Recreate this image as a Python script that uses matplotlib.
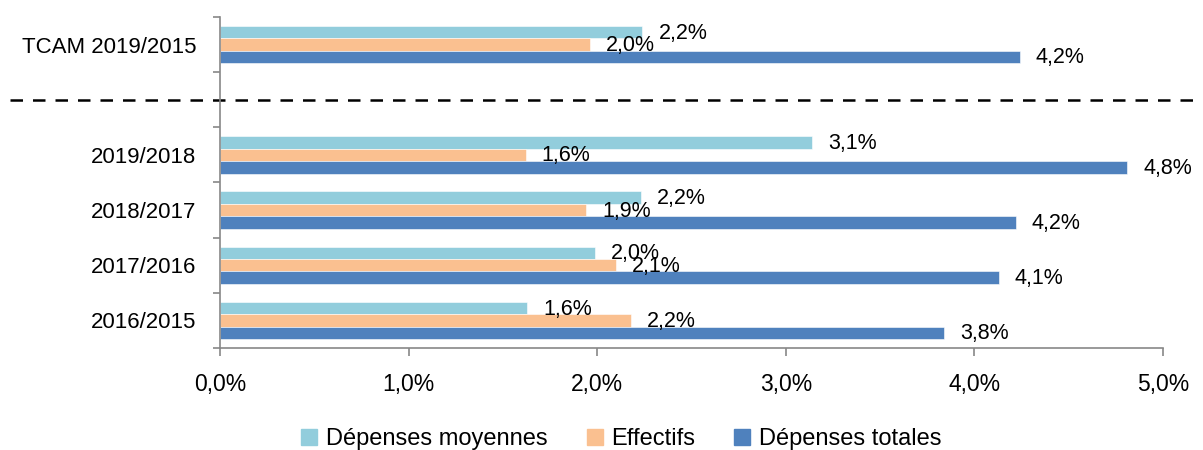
import numpy as np
import matplotlib
matplotlib.use("Agg")
import matplotlib.pyplot as plt
import matplotlib.transforms as mtransforms
from matplotlib.lines import Line2D

plt.rcParams['font.family'] = ['Liberation Sans', 'DejaVu Sans']

# categories from bottom to top (the empty slot separates TCAM from the yearly rates)
categories = ["2016/2015", "2017/2016", "2018/2017", "2019/2018", "", "TCAM 2019/2015"]
series_names = ["Dépenses moyennes", "Effectifs", "Dépenses totales"]
depenses_moyennes = [1.63, 1.99, 2.23, 3.14, None, 2.24]
effectifs = [2.18, 2.10, 1.94, 1.62, None, 1.96]
depenses_totales = [3.84, 4.13, 4.22, 4.81, None, 4.24]
x_ticks = [0, 1, 2, 3, 4, 5]

colors = ["#92CDDC", "#FAC090", "#4F81BD"]
offsets = [0.225, 0.0, -0.225]
bar_h = 0.225


def fmt(v):
    return f"{v:.1f}".replace(".", ",") + "%"


fig = plt.figure(figsize=(12.03, 4.5), dpi=100)
ax = fig.add_axes([220 / 1203, 1 - 348 / 450, (1163 - 220) / 1203, (348 - 17) / 450])

ypos = np.arange(len(categories))
for vals, col, off in zip([depenses_moyennes, effectifs, depenses_totales], colors, offsets):
    for y, v in zip(ypos, vals):
        if v is None:
            continue
        ax.barh(y + off, v, height=bar_h, color=col, edgecolor="white", linewidth=0.4)
        ax.annotate(fmt(v), xy=(v, y + off), xytext=(16, -1), textcoords="offset pixels",
                    ha="left", va="center", fontsize=15.5, color="black")

ax.set_xlim(0, 5)
ax.set_ylim(-0.5, len(categories) - 0.5)
ax.set_xticks(x_ticks)
ax.set_xticklabels([fmt(v) for v in x_ticks], fontsize=16.5)
ax.set_yticks(ypos)
ax.set_yticklabels(categories, fontsize=16)
ax.set_yticks(np.arange(-0.5, len(categories)), minor=True)
ax.tick_params(axis="y", which="major", length=0, pad=17)
ax.tick_params(axis="y", which="minor", length=5, color="#888888", width=1.2)
ax.tick_params(axis="x", length=6, color="#888888", width=1.2, pad=12)

for s in ["top", "right"]:
    ax.spines[s].set_visible(False)
for s in ["left", "bottom"]:
    ax.spines[s].set_color("#888888")
    ax.spines[s].set_linewidth(1.2)

# dashed separator across the whole figure
trans = mtransforms.blended_transform_factory(fig.transFigure, ax.transData)
ax.plot([10 / 1203, 1.0], [4, 4], transform=trans, color="black", linestyle=(0, (5, 4)),
        linewidth=1.8, clip_on=False)

handles = [Line2D([], [], marker="s", linestyle="", markersize=11, color=c) for c in colors]
fig.legend(handles, series_names, loc="center", bbox_to_anchor=(0.515, 0.024), ncol=3,
           frameon=False, fontsize=17, handletextpad=0.2, columnspacing=1.5, handlelength=1.0)

fig.savefig("out.png", dpi=100)
